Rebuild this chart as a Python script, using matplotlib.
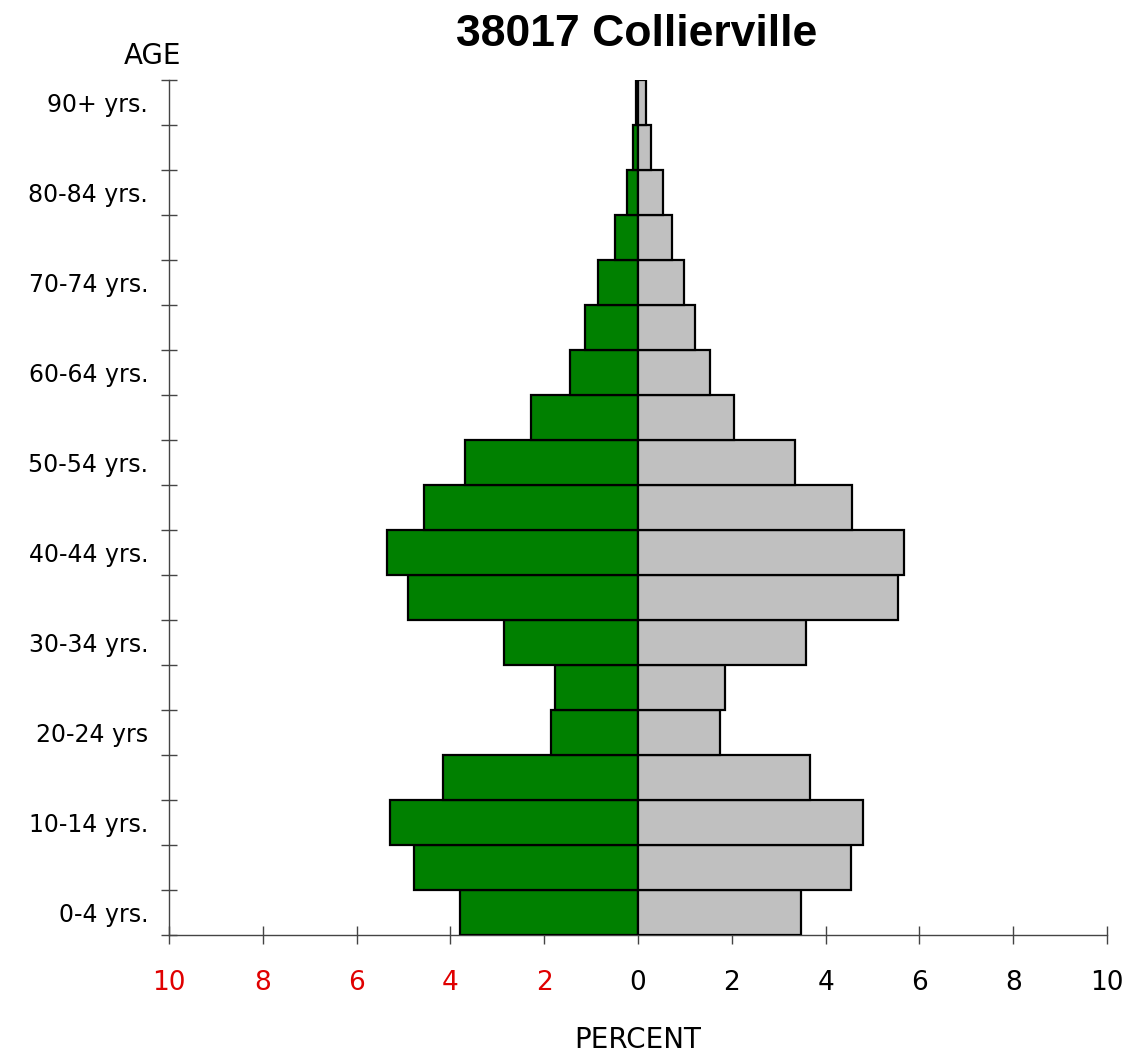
import numpy as np
import matplotlib.pyplot as plt

# Pirámide de población por grupos de edad (porcentaje del total)
grupos = ['0-4', '5-9', '10-14', '15-19', '20-24', '25-29', '30-34', '35-39',
          '40-44', '45-49', '50-54', '55-59', '60-64', '65-69', '70-74',
          '75-79', '80-84', '85-89', '90+']
hombres = [3.80, 4.78, 5.29, 4.16, 1.86, 1.77, 2.86, 4.90, 5.35, 4.56,
           3.69, 2.28, 1.45, 1.13, 0.85, 0.49, 0.23, 0.11, 0.04]
mujeres = [3.48, 4.54, 4.80, 3.67, 1.75, 1.86, 3.58, 5.54, 5.67, 4.56,
           3.35, 2.05, 1.54, 1.22, 0.98, 0.72, 0.53, 0.28, 0.17]
etiquetas_y = ['0-4 yrs.', '10-14 yrs.', '20-24 yrs', '30-34 yrs.', '40-44 yrs.',
               '50-54 yrs.', '60-64 yrs.', '70-74 yrs.', '80-84 yrs.', '90+ yrs.']
ticks_x = [-10, -8, -6, -4, -2, 0, 2, 4, 6, 8, 10]

fig = plt.figure(figsize=(11.29, 10.54), dpi=100)
ax = fig.add_axes([169 / 1129, 1 - 935 / 1054, (1107 - 169) / 1129, (935 - 80) / 1054])

y = np.arange(len(grupos))
ax.barh(y, -np.array(hombres), height=1.0, color='#008000',
        edgecolor='black', linewidth=1.6, zorder=3)
ax.barh(y, mujeres, height=1.0, color='#c0c0c0',
        edgecolor='black', linewidth=1.6, zorder=3)

ax.set_xlim(-10, 10)
ax.set_ylim(-0.5, len(grupos) - 0.5)

for lado in ['top', 'right']:
    ax.spines[lado].set_visible(False)
for lado in ['left', 'bottom']:
    ax.spines[lado].set_color('#444444')
    ax.spines[lado].set_linewidth(1.0)

# Eje X: etiquetas en rojo para el lado izquierdo
ax.set_xticks(ticks_x)
ax.set_xticklabels([str(abs(t)) for t in ticks_x], fontsize=19)
for t, lab in zip(ticks_x, ax.get_xticklabels()):
    lab.set_color('#e00000' if t < 0 else 'black')
ax.tick_params(axis='x', direction='inout', length=13, width=1.0,
               color='#444444', pad=19)

# Eje Y: marcas en los límites de cada grupo, etiquetas cada dos grupos
ax.set_yticks(np.arange(-0.5, len(grupos), 1.0))
ax.set_yticklabels([])
ax.tick_params(axis='y', which='major', direction='inout', length=11,
               width=1.0, color='#444444')
ax.set_yticks(np.arange(0, len(grupos), 2), minor=True)
ax.set_yticklabels(etiquetas_y, minor=True, fontsize=17)
ax.tick_params(axis='y', which='minor', length=0, pad=15)

fig.text(638 / 1129, 1 - 1040 / 1054, 'PERCENT', fontsize=20, ha='center', va='center')
fig.text(153 / 1129, 1 - 56 / 1054, 'AGE', fontsize=20, ha='center', va='center')
fig.text(637 / 1129, 1 - 35 / 1054, '38017 Collierville', fontsize=32,
         fontweight='bold', family='Liberation Sans', ha='center', va='center')

fig.savefig('out.png', dpi=100)
